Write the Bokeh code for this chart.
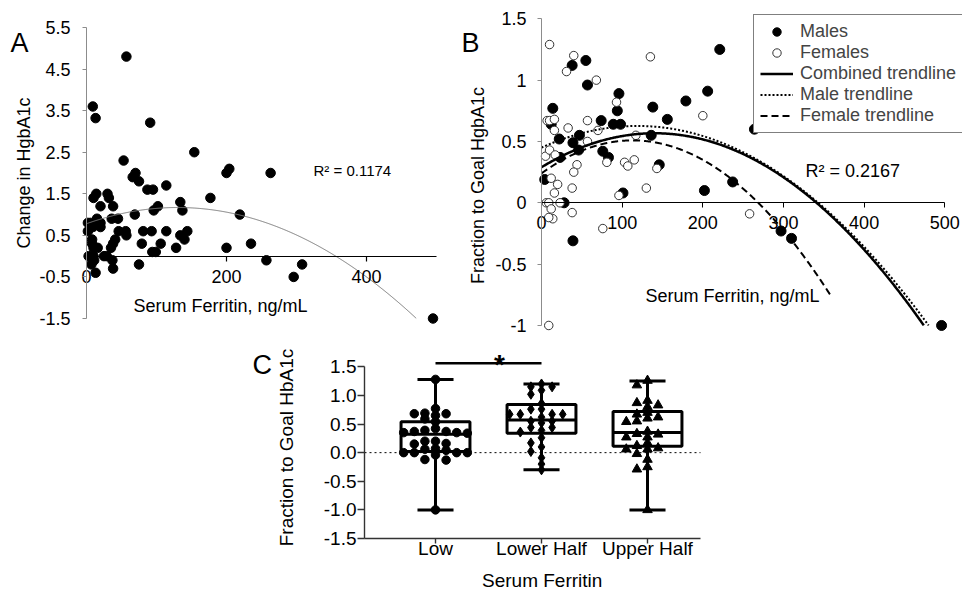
import numpy as np
from bokeh.plotting import figure
from bokeh.layouts import column, row
from bokeh.models import (Range1d, LinearAxis, FixedTicker, Label, Legend, LegendItem,
                          CustomJSTickFormatter, Spacer)
from bokeh.embed import file_html
from bokeh.resources import INLINE

FONT = "Liberation Sans"

# ---------------- Panel A data ----------------
a_ferritin = [57, 9, 13, 91, 154, 53, 200, 204, 263, 70,
              66, 75, 87, 95, 114, 177, 10, 14, 30, 32,
              20, 38, 134, 137, 102, 96, 219, 69, 15, 20,
              36, 45, 2, 6, 13, 20, 9, 2, 46, 56,
              57, 81, 93, 114, 144, 134, 140, 8, 41, 38,
              79, 106, 235, 8, 10, 16, 35, 128, 200, 94,
              99, 3, 10, 25, 29, 37, 7, 11, 257, 75,
              308, 38, 13, 296, 495]
a_change = [4.8, 3.6, 3.32, 3.21, 2.5, 2.3, 2.0, 2.1, 2.0, 2.0,
            1.9, 1.8, 1.6, 1.6, 1.7, 1.4, 1.4, 1.5, 1.5, 1.4,
            1.2, 1.2, 1.3, 1.1, 1.2, 1.1, 1.0, 1.0, 0.9, 0.8,
            0.9, 0.9, 0.8, 0.8, 0.8, 0.7, 0.7, 0.6, 0.6, 0.6,
            0.5, 0.6, 0.6, 0.6, 0.6, 0.5, 0.4, 0.4, 0.4, 0.3,
            0.3, 0.3, 0.3, 0.3, 0.2, 0.2, 0.2, 0.2, 0.2, 0.1,
            0.1, 0.0, 0.0, 0.0, 0.0, -0.1, -0.2, -0.1, -0.1, -0.2,
            -0.2, -0.3, -0.4, -0.5, -1.5]
a_trend_coef = [-2.296e-5, 0.005983, 0.78]      # polynomial trendline (x^2, x, 1)
a_xticks = [0, 200, 400]
a_xmax = 500
a_yticks = [-1.5, -0.5, 0.5, 1.5, 2.5, 3.5, 4.5, 5.5]
a_r2 = "R\u00b2 = 0.1174"

# ---------------- Panel B data ----------------
b_male_ferritin = [4, 28, 39, 38, 55, 57, 14, 12, 22, 23,
                   39, 47, 46, 74, 76, 83, 89, 98, 94, 96,
                   101, 136, 138, 146, 156, 179, 202, 206, 221, 237,
                   264, 297, 310, 496]
b_male_frac = [0.19, 0.0, -0.31, 1.12, 1.16, 0.96, 0.77, 0.64, 0.52, 0.37,
               0.49, 0.55, 0.43, 0.67, 0.42, 0.37, 0.64, 0.64, 0.75, 0.89,
               0.08, 0.55, 0.78, 0.31, 0.68, 0.83, 0.10, 0.91, 1.25, 0.17,
               0.60, -0.23, -0.29, -1.0]
b_female_ferritin = [10, 40, 31, 135, 68, 93, 200, 7, 10, 16,
                     16, 33, 57, 70, 57, 117, 5, 10, 17, 44,
                     40, 81, 103, 107, 115, 143, 130, 96, 12, 20,
                     16, 38, 6, 9, 23, 12, 14, 9, 38, 76,
                     258, 9]
b_female_frac = [1.29, 1.20, 1.07, 1.19, 1.0, 0.82, 0.71, 0.67, 0.67, 0.68,
                 0.59, 0.61, 0.67, 0.59, 0.50, 0.55, 0.38, 0.43, 0.39, 0.31,
                 0.25, 0.33, 0.33, 0.30, 0.35, 0.28, 0.12, 0.06, 0.2, 0.15,
                 0.08, 0.12, 0.0, 0.0, 0.0, -0.05, -0.13, -0.12, -0.08, -0.21,
                 -0.09, -1.0]
b_trend_combined = [-1.4068e-5, 0.003947, 0.29]
b_trend_male = [-1.2474e-5, 0.002967, 0.45]
b_trend_female = [-2.10e-5, 0.00475, 0.24]
b_trend_xmax = [500, 500, 360]        # combined, male, female
b_xticks = [0, 100, 200, 300, 400, 500]
b_xmax = 500
b_yticks = [-1, -0.5, 0, 0.5, 1, 1.5]
b_r2 = "R\u00b2 = 0.2167"
b_legend = ["Males", "Females", "Combined trendline", "Male trendline", "Female trendline"]

# ---------------- Panel C data ----------------
c_categories = ["Low", "Lower Half", "Upper Half"]
c_low = [1.28, 0.77, 0.69, 0.68, 0.68, 0.65, 0.59, 0.54, 0.42, 0.39,
         0.37, 0.37, 0.35, 0.35, 0.34, 0.20, 0.20, 0.16, 0.15, 0.07,
         0.06, 0.04, 0.0, 0.0, 0.0, 0.0, -0.04, -0.12, -0.13, -1.0]
c_lower_half = [1.20, 1.15, 1.15, 1.09, 1.02, 0.86, 0.76, 0.76, 0.67, 0.67,
                0.67, 0.67, 0.62, 0.55, 0.55, 0.52, 0.44, 0.44, 0.39, 0.36,
                0.26, 0.17, 0.10, 0.02, -0.09, -0.20, -0.30]
c_upper_half = [1.26, 1.18, 0.91, 0.87, 0.83, 0.80, 0.70, 0.67, 0.62, 0.60,
                0.55, 0.54, 0.37, 0.33, 0.32, 0.27, 0.27, 0.17, 0.12, 0.08,
                0.06, 0.06, -0.02, -0.12, -0.25, -0.29, -1.0]
c_min = [-1.0, -0.30, -1.0]
c_q1 = [0.02, 0.34, 0.11]
c_median = [0.32, 0.57, 0.35]
c_q3 = [0.54, 0.84, 0.72]
c_max = [1.28, 1.20, 1.25]
c_yticks = [-1.5, -1.0, -0.5, 0.0, 0.5, 1.0, 1.5]
c_sig_pair = [0, 1]
c_sig_level = 1.56
c_sig_text = "*"


# ---------------- helpers ----------------
def base_fig(w, h, xr, yr):
    p = figure(width=w, height=h, x_range=Range1d(*xr), y_range=Range1d(*yr),
               x_axis_location=None, y_axis_location=None, toolbar_location=None,
               output_backend="svg",
               min_border_left=0, min_border_right=0, min_border_top=0, min_border_bottom=0)
    p.outline_line_color = None
    p.background_fill_color = "white"
    p.border_fill_color = "white"
    p.grid.visible = False
    return p


def style_axis(axis, color, size, tick_out, standoff, width=1):
    axis.axis_line_color = color
    axis.axis_line_width = width
    axis.major_tick_line_color = color
    axis.major_tick_line_width = width
    axis.major_tick_out = tick_out
    axis.major_tick_in = 0
    axis.minor_tick_line_color = None
    axis.major_label_text_font = FONT
    axis.major_label_text_font_size = size
    axis.major_label_text_color = "black"
    axis.major_label_standoff = standoff


def add_text(p, x, y, text, size, align="left", baseline="alphabetic", angle=0.0, style="normal"):
    p.add_layout(Label(x=x, y=y, text=text, text_font=FONT, text_font_size=size,
                       text_align=align, text_baseline=baseline, angle=angle,
                       text_font_style=style, text_color="black"))


def trend(coef, xmax, ymin, n=500):
    xs = np.linspace(0, xmax, n)
    ys = np.polyval(coef, xs)
    keep = ys >= ymin
    return xs[keep], ys[keep]


def swarm(vals, center, col_w, min_dy):
    vals = np.asarray(vals, dtype=float)
    order = np.argsort(-vals, kind="stable")
    cols = {}
    xs = np.zeros(len(vals))
    cands = [0, -1, 1, -2, 2, -3, 3, -4, 4, -5, 5]
    for i in order:
        v = vals[i]
        for k in cands:
            if all(abs(v - u) >= min_dy - 1e-9 for u in cols.get(k, [])):
                cols.setdefault(k, []).append(v)
                xs[i] = center + k * col_w
                break
    return xs


# ================= Panel A  (page box x 0..450, y 0..335) =================
AX0, AXS, AY0, AYS = 86.0, 0.7, 255.64, 41.571
A_L, A_T, A_W, A_H = 0, 0, 450, 335
def ax(px): return (px - AX0) / AXS
def ay(py): return (AY0 - py) / AYS

pA = base_fig(A_W, A_H, (ax(A_L), ax(A_L + A_W)), (ay(A_T + A_H), ay(A_T)))

xa = LinearAxis(fixed_location=0, bounds=(0, a_xmax), ticker=FixedTicker(ticks=a_xticks))
style_axis(xa, "black", "18px", 5, 9, 1.2)
pA.add_layout(xa, "below")
ya = LinearAxis(fixed_location=0, bounds=(a_yticks[0], a_yticks[-1]),
                ticker=FixedTicker(ticks=a_yticks),
                formatter=CustomJSTickFormatter(code="return tick.toFixed(1);"))
style_axis(ya, "#8c8c8c", "18px", 4, 12)
pA.add_layout(ya, "left")

pA.scatter(a_ferritin, a_change, size=9.5, color="black")
tx, ty = trend(a_trend_coef, a_xmax, a_yticks[0])
pA.line(tx, ty, color="#7a7a7a", line_width=1)

add_text(pA, ax(313), ay(170), a_r2, "15px", baseline="middle")
add_text(pA, ax(220), ay(305), "Serum Ferritin, ng/mL", "18px", align="center", baseline="middle")
add_text(pA, ax(23), ay(172.5), "Change in HgbA1c", "18px", align="center", baseline="middle", angle=np.pi / 2)
add_text(pA, ax(10), ay(42.5), "A", "27px")

# ================= Panel B  (page box x 450..962, y 0..335) =================
BX0, BXS, BY0, BYS = 541.0, 0.8066, 202.3, 122.68
B_L, B_T, B_W, B_H = 450, 0, 512, 335
def bx(px): return (px - BX0) / BXS
def by(py): return (BY0 - py) / BYS

pB = base_fig(B_W, B_H, (bx(B_L), bx(B_L + B_W)), (by(B_T + B_H), by(B_T)))

xb = LinearAxis(fixed_location=0, bounds=(0, b_xmax), ticker=FixedTicker(ticks=b_xticks))
style_axis(xb, "black", "18px", 5, 8)
pB.add_layout(xb, "below")
yb = LinearAxis(fixed_location=0, bounds=(b_yticks[0], b_yticks[-1]),
                ticker=FixedTicker(ticks=b_yticks),
                formatter=CustomJSTickFormatter(code="return tick.toString();"))
style_axis(yb, "#8c8c8c", "18px", 4, 11)
pB.add_layout(yb, "left")

r_m = pB.scatter(b_male_ferritin, b_male_frac, size=10, color="black")
r_f = pB.scatter(b_female_ferritin, b_female_frac, size=8.5, fill_color="white",
                 line_color="#333333", line_width=1)
cx_, cy_ = trend(b_trend_combined, b_trend_xmax[0], b_yticks[0])
mx_, my_ = trend(b_trend_male, b_trend_xmax[1], b_yticks[0])
fx_, fy_ = trend(b_trend_female, b_trend_xmax[2], b_yticks[0])
r_c = pB.line(cx_, cy_, color="black", line_width=2.5)
r_ml = pB.line(mx_, my_, color="black", line_width=2, line_dash="2 2")
r_fl = pB.line(fx_, fy_, color="black", line_width=2, line_dash="7 4")

legend = Legend(items=[LegendItem(label=lab, renderers=[r]) for lab, r in
                       zip(b_legend, [r_m, r_f, r_c, r_ml, r_fl])],
                location=(753 - B_L, 202))
legend.label_text_font = FONT
legend.label_text_font_size = "18px"
legend.glyph_width = 33
legend.glyph_height = 21
legend.label_height = 21
legend.spacing = 0
legend.padding = 6
legend.margin = 0
legend.label_standoff = 7
legend.border_line_color = "black"
legend.border_line_width = 1
legend.background_fill_color = "white"
legend.background_fill_alpha = 1
pB.add_layout(legend)

add_text(pB, bx(805), by(170), b_r2, "18px", baseline="middle")
add_text(pB, bx(732), by(295), "Serum Ferritin, ng/mL", "18px", align="center", baseline="middle")
add_text(pB, bx(477), by(185), "Fraction to Goal HgbA1c", "18px", align="center", baseline="middle", angle=np.pi / 2)
add_text(pB, bx(461), by(42.5), "B", "27px")

# ================= Panel C  (page box x 245..720, y 335..590) =================
CX0, CXS, CY0, CYS = 435.0, 106.0, 452.15, 57.23
C_L, C_T, C_W, C_H = 245, 335, 475, 255
def cx(px): return (px - CX0) / CXS
def cy(py): return (CY0 - py) / CYS

pC = base_fig(C_W, C_H, (cx(C_L), cx(C_L + C_W)), (cy(C_T + C_H), cy(C_T)))
c_xbounds = (cx(364), cx(700))

xc = LinearAxis(fixed_location=c_yticks[0], bounds=c_xbounds,
                ticker=FixedTicker(ticks=list(range(len(c_categories)))),
                major_label_overrides={i: c for i, c in enumerate(c_categories)})
style_axis(xc, "#333333", "19px", 5, -5, 1.4)
pC.add_layout(xc, "below")
yc = LinearAxis(fixed_location=c_xbounds[0], bounds=(c_yticks[0], c_yticks[-1]),
                ticker=FixedTicker(ticks=c_yticks),
                formatter=CustomJSTickFormatter(code="return tick.toFixed(1);"))
style_axis(yc, "#333333", "19px", 7, 1, 1.4)
pC.add_layout(yc, "left")

# dotted reference line at zero across the axis length
pC.segment(x0=[c_xbounds[0]], x1=[c_xbounds[1]], y0=[0], y1=[0],
           line_color="black", line_width=1, line_dash="2 3")

pos = np.arange(len(c_categories), dtype=float)
box_half, cap_half = 0.325, 0.17
pC.quad(left=pos - box_half, right=pos + box_half, bottom=c_q1, top=c_q3,
        fill_color=None, line_color="black", line_width=3)
pC.segment(x0=pos - box_half, x1=pos + box_half, y0=c_median, y1=c_median,
           line_color="black", line_width=3)
pC.segment(x0=pos, x1=pos, y0=c_q3, y1=c_max, line_color="black", line_width=3)
pC.segment(x0=pos, x1=pos, y0=c_min, y1=c_q1, line_color="black", line_width=3)
pC.segment(x0=pos - cap_half, x1=pos + cap_half, y0=c_max, y1=c_max, line_color="black", line_width=3)
pC.segment(x0=pos - cap_half, x1=pos + cap_half, y0=c_min, y1=c_min, line_color="black", line_width=3)

col_w = 10.6 / CXS
min_dy = 0.10
groups = [(c_low, "circle", 8.5), (c_lower_half, "diamond", 10), (c_upper_half, "triangle", 9.5)]
for i, (vals, marker, size) in enumerate(groups):
    xs = swarm(vals, pos[i], col_w, min_dy)
    pC.scatter(xs, vals, marker=marker, size=size, color="black")

pC.segment(x0=[pos[c_sig_pair[0]]], x1=[pos[c_sig_pair[1]]], y0=[c_sig_level], y1=[c_sig_level],
           line_color="black", line_width=2.5)
add_text(pC, cx(499), cy(364), c_sig_text, "28px", align="center", style="bold")

add_text(pC, cx(541.7), cy(580), "Serum Ferritin", "19px", align="center", baseline="middle")
add_text(pC, cx(286), cy(447), "Fraction to Goal HbA1c", "19px", align="center", baseline="middle", angle=np.pi / 2)
add_text(pC, cx(252), cy(364), "C", "27px")

layout = column(row(pA, pB), row(Spacer(width=C_L, height=C_H), pC))
open("out.html", "w").write(file_html(layout, INLINE))
